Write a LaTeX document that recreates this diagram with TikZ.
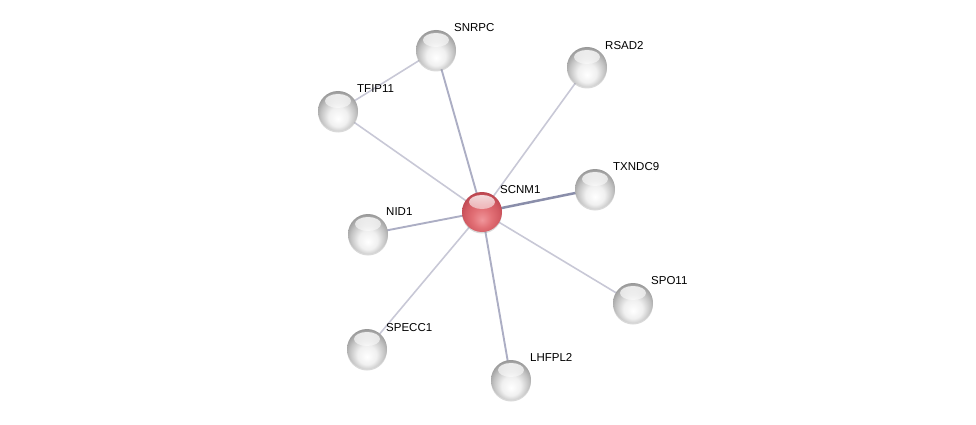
\documentclass[tikz,border=0pt]{standalone}
\usepackage{fontspec}
\setmainfont{Liberation Sans}
\usetikzlibrary{backgrounds,shadows,fadings}

\pgfdeclareradialshading{graysphere}{\pgfpoint{0bp}{-10bp}}{%
  color(0bp)=(white);
  color(12bp)=(black!6);
  color(22bp)=(black!24);
  color(29bp)=(black!40);
  color(35bp)=(black!50);
  color(50bp)=(black!50)}
\pgfdeclareradialshading{redsphere}{\pgfpoint{0bp}{-10bp}}{%
  color(0bp)=(rgb,255:red,240;green,150;blue,155);
  color(12bp)=(rgb,255:red,226;green,112;blue,118);
  color(22bp)=(rgb,255:red,210;green,90;blue,98);
  color(29bp)=(rgb,255:red,188;green,70;blue,80);
  color(35bp)=(rgb,255:red,150;green,48;blue,58);
  color(50bp)=(rgb,255:red,150;green,48;blue,58)}

\begin{document}
\begin{tikzpicture}[x=1pt,y=-1pt,
  protein/.style={circle,minimum size=40pt,inner sep=0pt,shading=graysphere,
    drop shadow={opacity=0.3,shadow xshift=0pt,shadow yshift=-1.5pt},
    path picture={\fill[white,opacity=0.85,path fading=south]
      ([yshift=10pt]path picture bounding box.center) ellipse (13pt and 7pt);}},
  query/.style={protein,shading=redsphere},
  plabel/.style={anchor=west,inner sep=0pt,font=\fontsize{11.5}{13}\selectfont},
  weak/.style={draw={rgb,255:red,200;green,200;blue,214},line width=1.6pt},
  medium/.style={draw={rgb,255:red,172;green,174;blue,196},line width=1.9pt},
  strong/.style={draw={rgb,255:red,138;green,142;blue,170},line width=2.5pt}]
\useasboundingbox (0,0) rectangle (976,425);

\node[query] (scnm1) at (482,212) {};
\node[plabel] (scnm1-l) at (500,190) {SCNM1};

\node[protein] (snrpc) at (436,50) {};
\node[plabel] (snrpc-l) at (454,28) {SNRPC};

\node[protein] (rsad2) at (587,67) {};
\node[plabel] (rsad2-l) at (605,46) {RSAD2};

\node[protein] (tfip11) at (338,111) {};
\node[plabel] (tfip11-l) at (357,89) {TFIP11};

\node[protein] (txndc9) at (595,189) {};
\node[plabel] (txndc9-l) at (613,167) {TXNDC9};

\node[protein] (nid1) at (368,234) {};
\node[plabel] (nid1-l) at (386,212) {NID1};

\node[protein] (spo11) at (633,303) {};
\node[plabel] (spo11-l) at (651,281) {SPO11};

\node[protein] (specc1) at (367,349) {};
\node[plabel] (specc1-l) at (386,328) {SPECC1};

\node[protein] (lhfpl2) at (511,380) {};
\node[plabel] (lhfpl2-l) at (530,357) {LHFPL2};

% interactions
\begin{scope}[on background layer]
\path[weak] (tfip11.center) -- (snrpc.center);
\path[medium] (scnm1.center) -- (snrpc.center);
\path[weak] (scnm1.center) -- (rsad2.center);
\path[weak] (scnm1.center) -- (tfip11.center);
\path[strong] (scnm1.center) -- (txndc9.center);
\path[medium] (scnm1.center) -- (nid1.center);
\path[weak] (scnm1.center) -- (spo11.center);
\path[weak] (scnm1.center) -- (specc1.center);
\path[medium] (scnm1.center) -- (lhfpl2.center);
\end{scope}
\end{tikzpicture}
\end{document}
